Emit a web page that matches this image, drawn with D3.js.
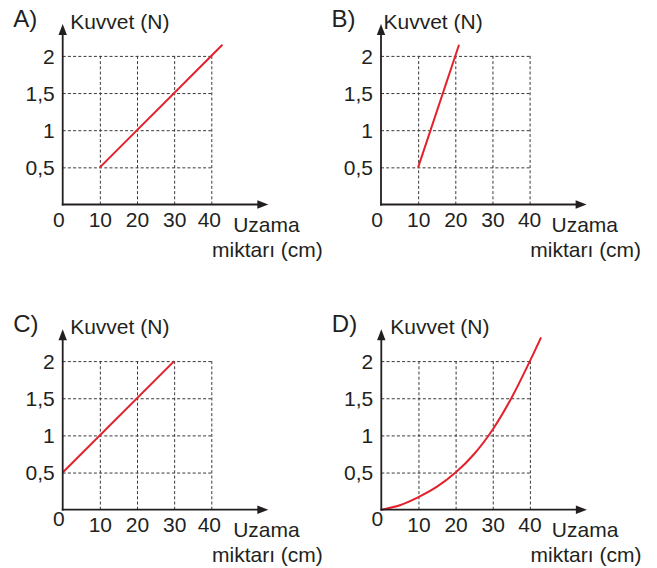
<!DOCTYPE html>
<html>
<head>
<meta charset="utf-8">
<script src="https://cdn.jsdelivr.net/npm/d3@7"></script>
<style>
  html, body { margin: 0; padding: 0; background: #fff; }
  svg { display: block; }
  text { font-family: "Liberation Sans", Arial, Helvetica, sans-serif; fill: #231f20; }
</style>
</head>
<body>
<script>
// Tick values and labels shared by all four graphs
const xTicks = [0, 10, 20, 30, 40];
const yTicks = [0.5, 1, 1.5, 2];
const yTickLabels = ["0,5", "1", "1,5", "2"];

// Force (N) against extension (cm) for each option
const seriesA = [[10, 0.5], [43, 2.15]];
const seriesB = [[10, 0.5], [21, 2.15]];
const seriesC = [[0, 0.5], [30, 2]];
const seriesD = [[0, 0], [5, 0.06], [10, 0.17], [15, 0.31], [20, 0.5], [25, 0.75],
                 [30, 1.08], [35, 1.5], [40, 2.0], [43, 2.32]];

const panelLetters = ["A)", "B)", "C)", "D)"];
const yAxisTitle = "Kuvvet (N)";
const xAxisTitle1 = "Uzama";
const xAxisTitle2 = "miktarı (cm)";

const W = 657, H = 568;
const svg = d3.select("body").append("svg").attr("width", W).attr("height", H);

// Layout of each graph: origin of the axes and small label offsets
const panels = [
  { letter: panelLetters[0], data: seriesA, ox: 62.7, oy: 204.5, titleDx: 7.5, zeroDy: 0, fortyDx: -2.5, curved: false },
  { letter: panelLetters[1], data: seriesB, ox: 381.0, oy: 204.5, titleDx: 2.5, zeroDy: 0, fortyDx: -0.5, curved: false },
  { letter: panelLetters[2], data: seriesC, ox: 62.7, oy: 509.7, titleDx: 7.5, zeroDy: -6, fortyDx: -2.5, curved: false },
  { letter: panelLetters[3], data: seriesD, ox: 381.3, oy: 509.7, titleDx: 9, zeroDy: -6, fortyDx: -0.5, curved: true }
];

const unitX = 148.6;  // px for 0..40
const unitY = 148.6;  // px for 0..2
const ink = "#231f20";
const red = "#e4202a";

panels.forEach(p => {
  const x = d3.scaleLinear().domain([0, 40]).range([p.ox, p.ox + unitX]);
  const y = d3.scaleLinear().domain([0, 2]).range([p.oy, p.oy - unitY]);
  const g = svg.append("g");

  // dashed grid: vertical lines from the x axis up to 2, horizontal from the y axis out to 40
  const vGrid = d3.axisBottom(x).tickValues(xTicks.slice(1)).tickSize(-(y(0) - y(2))).tickFormat("");
  g.append("g").attr("transform", `translate(0,${y(0)})`).call(vGrid)
    .call(s => s.select(".domain").remove())
    .selectAll("line").attr("stroke", "#3a3a3a").attr("stroke-width", 1).attr("stroke-dasharray", "3,2.2");
  const hGrid = d3.axisLeft(y).tickValues(yTicks).tickSize(-(x(40) - x(0))).tickFormat("");
  g.append("g").attr("transform", `translate(${x(0)},0)`).call(hGrid)
    .call(s => s.select(".domain").remove())
    .selectAll("line").attr("stroke", "#3a3a3a").attr("stroke-width", 1).attr("stroke-dasharray", "3,2.2");

  // y tick labels
  const yAx = d3.axisLeft(y).tickValues(yTicks).tickSize(0).tickPadding(8)
    .tickFormat((d, i) => yTickLabels[i]);
  g.append("g").attr("transform", `translate(${x(0)},0)`).call(yAx)
    .call(s => s.select(".domain").remove())
    .selectAll("text").attr("font-size", 21).attr("fill", ink)
    .attr("font-family", '"Liberation Sans", Arial, sans-serif').attr("dy", "0.35em");

  // x tick labels
  const xAx = d3.axisBottom(x).tickValues(xTicks).tickSize(0).tickPadding(7.6);
  g.append("g").attr("transform", `translate(0,${y(0)})`).call(xAx)
    .call(s => s.select(".domain").remove())
    .selectAll("text").attr("font-size", 21).attr("fill", ink)
    .attr("font-family", '"Liberation Sans", Arial, sans-serif')
    .attr("transform", d => d === 0 ? `translate(-4.4,${p.zeroDy})` : d === 40 ? `translate(${p.fortyDx},0)` : null);

  // data line
  const line = d3.line().x(d => x(d[0])).y(d => y(d[1]))
    .curve(p.curved ? d3.curveCatmullRom.alpha(0.5) : d3.curveLinear);
  g.append("path").datum(p.data).attr("d", line)
    .attr("fill", "none").attr("stroke", red).attr("stroke-width", 2).attr("stroke-linecap", "butt");

  // axes with arrow heads
  const topY = p.oy - 180.5;
  const rightX = p.ox + 205.6;
  g.append("line").attr("x1", x(0)).attr("y1", y(0) + 0.9).attr("x2", x(0)).attr("y2", topY + 9)
    .attr("stroke", ink).attr("stroke-width", 1.8);
  g.append("line").attr("x1", x(0) - 0.9).attr("y1", y(0)).attr("x2", rightX - 9).attr("y2", y(0))
    .attr("stroke", ink).attr("stroke-width", 1.8);
  g.append("path").attr("d", `M${x(0)},${topY} L${x(0) - 4.2},${topY + 11} L${x(0) + 4.2},${topY + 11} Z`).attr("fill", ink);
  g.append("path").attr("d", `M${rightX},${y(0)} L${rightX - 11},${y(0) - 4.2} L${rightX - 11},${y(0) + 4.2} Z`).attr("fill", ink);

  // titles
  g.append("text").attr("x", p.ox - 49.5).attr("y", p.oy - 177.5).attr("font-size", 24).text(p.letter);
  g.append("text").attr("x", p.ox + p.titleDx).attr("y", p.oy - 175.3).attr("font-size", 21).text(yAxisTitle);
  g.append("text").attr("x", p.ox + 170.5).attr("y", p.oy + 27.3).attr("font-size", 21).text(xAxisTitle1);
  g.append("text").attr("x", p.ox + 149.3).attr("y", p.oy + 52.2).attr("font-size", 21).text(xAxisTitle2);
});
</script>
</body>
</html>
